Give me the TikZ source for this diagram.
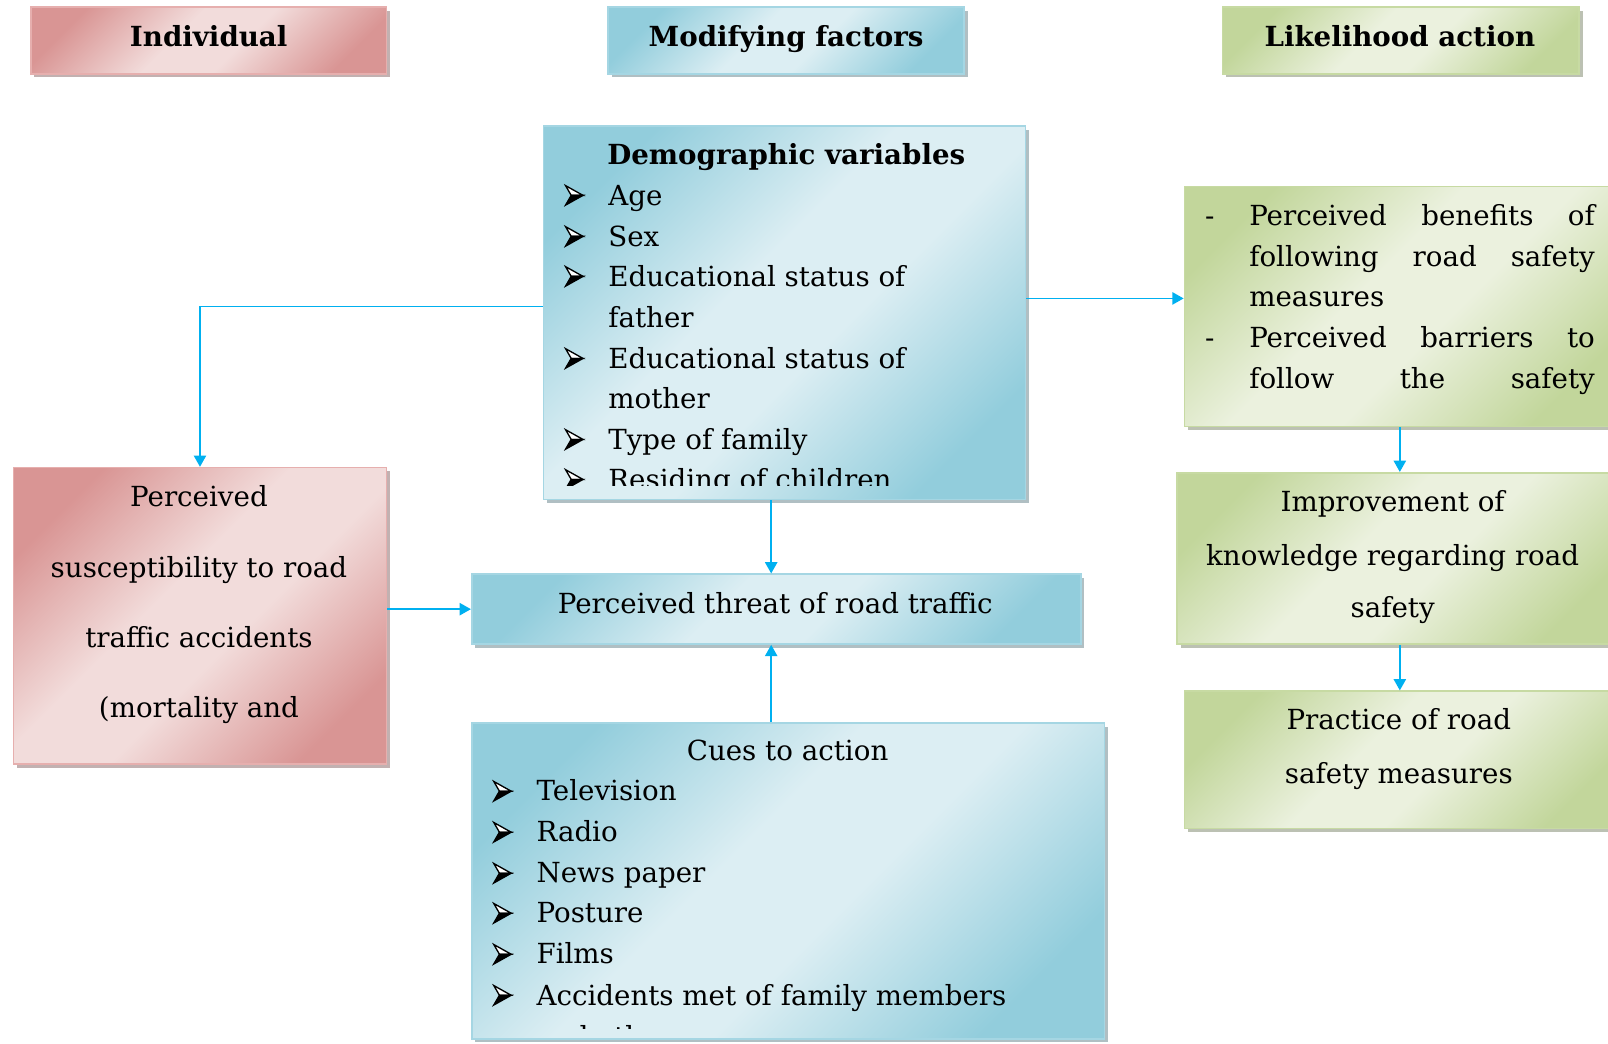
\documentclass[tikz,border=0pt]{standalone}
\usepackage{fontspec}
\setmainfont{DejaVu Serif}
\usetikzlibrary{arrows.meta,shadows}
\definecolor{pinkD}{HTML}{D99594}
\definecolor{pinkL}{HTML}{F2DCDB}
\definecolor{pinkB}{HTML}{E6AFAE}
\definecolor{blueD}{HTML}{92CDDC}
\definecolor{blueL}{HTML}{DCEEF3}
\definecolor{blueB}{HTML}{A5D6E3}
\definecolor{greenD}{HTML}{C2D69B}
\definecolor{greenL}{HTML}{EBF1DE}
\definecolor{greenB}{HTML}{C7DAA3}
\definecolor{arrowc}{HTML}{00B0F0}
\pgfdeclarehorizontalshading{pinkshade}{100bp}{color(0bp)=(pinkD); color(24bp)=(pinkD); color(44bp)=(pinkL); color(56bp)=(pinkL); color(76bp)=(pinkD); color(100bp)=(pinkD)}
\pgfdeclarehorizontalshading{blueshade}{100bp}{color(0bp)=(blueD); color(24bp)=(blueD); color(44bp)=(blueL); color(56bp)=(blueL); color(76bp)=(blueD); color(100bp)=(blueD)}
\pgfdeclarehorizontalshading{greenshade}{100bp}{color(0bp)=(greenD); color(24bp)=(greenD); color(44bp)=(greenL); color(56bp)=(greenL); color(76bp)=(greenD); color(100bp)=(greenD)}
\tikzset{
  panel/.style n args={3}{rectangle, inner sep=0pt, line width=1.6pt, draw=#3,
    shading=#2, shading angle=-45,
    drop shadow={shadow xshift=3.5pt, shadow yshift=-3.5pt, opacity=1, fill=#1!55!black!45!white}},
  pinkbox/.style={panel={pinkD}{pinkshade}{pinkB}},
  bluebox/.style={panel={blueD}{blueshade}{blueB}},
  greenbox/.style={panel={greenD}{greenshade}{greenB}},
  txt/.style={inner sep=0pt, anchor=base west},
  ctxt/.style={inner sep=0pt, anchor=base},
  hdr/.style={inner sep=0pt, anchor=base, font=\fontsize{27}{40}\selectfont\bfseries},
  bulpic/.pic={
    \filldraw[fill=white, draw=black, line width=1.3pt, line join=miter] (0.5,-19) -- (17.5,-9.5) -- (6,-9.5) -- cycle;
    \filldraw[fill=black, draw=black, line width=1.3pt, line join=miter] (6,-9.5) -- (17.5,-9.5) -- (0.5,0) -- cycle;
  },
  arr/.style={draw=arrowc, line width=1.5pt, -{Triangle[length=11pt,width=12pt]}}
}
\begin{document}
\begin{tikzpicture}[x=1pt,y=-1pt,font=\fontsize{27}{40}\selectfont]
\useasboundingbox (0,0) rectangle (1568,1018);
\clip (0,0) rectangle (1568,1018);

% header boxes
\node[pinkbox, minimum width=347pt, minimum height=65pt] (ind) at (203.5,39.5) {};
\node[bluebox, minimum width=347pt, minimum height=65pt] (mod) at (766.5,39.5) {};
\node[greenbox, minimum width=348pt, minimum height=65pt] (lik) at (1366,39.5) {};
\node[hdr] (indt) at (203.5,45) {Individual};
\node[hdr] (modt) at (766.5,45) {Modifying factors};
\node[hdr] (likt) at (1365,45) {Likelihood action};

% main boxes
\node[bluebox, minimum width=470pt, minimum height=364pt] (dem) at (765,305) {};
\node[bluebox, minimum width=594pt, minimum height=68pt] (thr) at (757,594) {};
\node[pinkbox, minimum width=364pt, minimum height=289pt] (sus) at (195,600.5) {};
\node[bluebox, minimum width=617pt, minimum height=308pt] (cue) at (768.5,859) {};
\node[greenbox, minimum width=425pt, minimum height=234pt] (ben) at (1367.5,299) {};
\node[greenbox, minimum width=432pt, minimum height=167pt] (imp) at (1364,544.5) {};
\node[greenbox, minimum width=425pt, minimum height=134pt] (pra) at (1367.5,741) {};

% demographic text
\begin{scope}
\clip (532,125) rectangle (998,473);
\node[txt, font=\fontsize{27}{40}\selectfont\bfseries] (d0) at (592,160) {Demographic variables};
\pic at (551,200) {bulpic};
\node[txt] (d1) at (593,200) {Age};
\pic at (551,240) {bulpic};
\node[txt] (d2) at (593,240) {Sex};
\pic at (551,279) {bulpic};
\node[txt] (d3) at (593,279) {Educational status of};
\node[txt] (d4) at (593,319) {father};
\pic at (551,359) {bulpic};
\node[txt] (d5) at (593,359) {Educational status of};
\node[txt] (d6) at (593,398) {mother};
\pic at (551,438) {bulpic};
\node[txt] (d7) at (593,438) {Type of family};
\pic at (551,477) {bulpic};
\node[txt] (d8) at (593,477) {Residing of children};
\end{scope}

% threat text
\node[ctxt] (t1) at (756,598) {Perceived threat of road traffic};

% susceptibility text
\node[ctxt] (s1) at (194,494) {Perceived};
\node[ctxt] (s2) at (194,563) {susceptibility to road};
\node[ctxt] (s3) at (194,631) {traffic accidents};
\node[ctxt] (s4) at (194,700) {(mortality and};

% cues text
\begin{scope}
\clip (462,707) rectangle (1075,1003);
\node[ctxt] (c0) at (768,742) {Cues to action};
\pic at (481,781) {bulpic};
\node[txt] (c1) at (523,781) {Television};
\pic at (481,821) {bulpic};
\node[txt] (c2) at (523,821) {Radio};
\pic at (481,861) {bulpic};
\node[txt] (c3) at (523,861) {News paper};
\pic at (481,900) {bulpic};
\node[txt] (c4) at (523,900) {Posture};
\pic at (481,940) {bulpic};
\node[txt] (c5) at (523,940) {Films};
\pic at (481,980) {bulpic};
\node[txt] (c6) at (523,980) {Accidents met of family members};
\node[txt] (c7) at (523,1020) {and others};
\end{scope}

% benefits text
\begin{scope}
\clip (1157,184) rectangle (1568,398);
\node[txt] (bd1) at (1175,220) {-};
\node[txt] (b1) at (1218,220) {\makebox[337pt][s]{Perceived benefits of}};
\node[txt] (b2) at (1218,260) {\makebox[337pt][s]{following road safety}};
\node[txt] (b3) at (1218,299) {measures};
\node[txt] (bd4) at (1175,339) {-};
\node[txt] (b4) at (1218,339) {\makebox[337pt][s]{Perceived barriers to}};
\node[txt] (b5) at (1218,379) {\makebox[337pt][s]{follow the safety}};
\node[txt] (b6) at (1218,418) {measures};
\end{scope}

% improvement / practice text
\node[ctxt] (i1) at (1358,499) {Improvement of};
\node[ctxt] (i2) at (1358,551) {knowledge regarding road};
\node[ctxt] (i3) at (1358,602) {safety};
\node[ctxt] (p1) at (1364,711) {Practice of road};
\node[ctxt] (p2) at (1364,764) {safety measures};

% connectors
\coordinate (ax) at (752,0);
\coordinate (rx) at (1365,0);
\draw[arr] ([yshift=6pt]dem.west) -| (sus.north);
\draw[arr] ([yshift=14pt]dem.east) -- ([yshift=14pt]dem.east -| ben.west);
\draw[arr] (dem.south -| ax) -- (thr.north -| ax);
\draw[arr] (sus.east |- thr.west) -- (thr.west);
\draw[arr] (cue.north -| ax) -- (thr.south -| ax);
\draw[arr] (ben.south -| rx) -- (imp.north -| rx);
\draw[arr] (imp.south -| rx) -- (pra.north -| rx);
\end{tikzpicture}
\end{document}
